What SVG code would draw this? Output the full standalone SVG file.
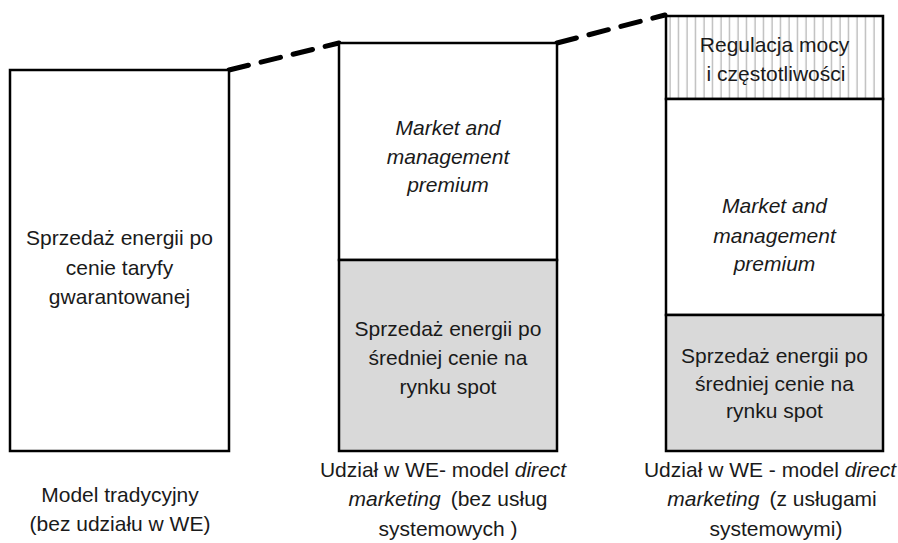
<svg xmlns="http://www.w3.org/2000/svg" width="898" height="543" viewBox="0 0 898 543">
<defs>
<pattern id="hatch" patternUnits="userSpaceOnUse" x="666" y="0" width="8.5" height="10">
<line x1="4" y1="0" x2="4" y2="10" stroke="#a0a0a0" stroke-width="1"/>
</pattern>
</defs>
<style>
.box{fill:#fff;stroke:#000;stroke-width:2.5}
.gray{fill:#d9d9d9;stroke:#000;stroke-width:2.5}
.hatch{fill:url(#hatch);stroke:#000;stroke-width:2.5}
text{font-family:"Liberation Sans",Arial,sans-serif;font-size:21px;fill:#1a1a1a;text-anchor:middle}
.it{font-style:italic}
.dash{fill:none;stroke:#000;stroke-width:5;stroke-dasharray:20 13;stroke-linecap:round}
</style>
<g id="connectors">
<path class="dash" d="M229 70 L339 43"/>
<path class="dash" d="M557 43 L665 15"/>
</g>
<g id="col1">
<rect class="box" x="10" y="70" width="219" height="381"/>
<text x="119.5" y="245">Sprzedaż energii po</text>
<text x="119.5" y="275">cenie taryfy</text>
<text x="119.5" y="304">gwarantowanej</text>
</g>
<g id="col2-top">
<rect class="box" x="339" y="43" width="218" height="217"/>
<text class="it" x="448" y="135">Market and</text>
<text class="it" x="448" y="164">management</text>
<text class="it" x="448" y="192">premium</text>
</g>
<g id="col2-bottom">
<rect class="gray" x="339" y="260" width="218" height="191"/>
<text x="448" y="336">Sprzedaż energii po</text>
<text x="448" y="365">średniej cenie na</text>
<text x="448" y="394">rynku spot</text>
</g>
<g id="col3-top">
<rect class="hatch" x="666" y="16" width="217" height="83"/>
<text x="774.5" y="52">Regulacja mocy</text>
<text x="776" y="81">i częstotliwości</text>
</g>
<g id="col3-mid">
<rect class="box" x="666" y="99" width="217" height="216"/>
<text class="it" x="774.5" y="213">Market and</text>
<text class="it" x="774.5" y="243">management</text>
<text class="it" x="774.5" y="271">premium</text>
</g>
<g id="col3-bottom">
<rect class="gray" x="666" y="315" width="217" height="136"/>
<text x="774.5" y="363">Sprzedaż energii po</text>
<text x="774.5" y="391">średniej cenie na</text>
<text x="774.5" y="418">rynku spot</text>
</g>
<g id="label1">
<text x="120" y="502">Model tradycyjny</text>
<text x="120" y="531">(bez udziału w WE)</text>
</g>
<g id="label2">
<text x="443" y="477">Udział w WE- model <tspan class="it">direct</tspan></text>
<text x="448" y="506"><tspan class="it">marketing</tspan><tspan dx="10">(bez usług</tspan></text>
<text x="448" y="536">systemowych )</text>
</g>
<g id="label3">
<text x="770" y="477">Udział w WE - model <tspan class="it">direct</tspan></text>
<text x="772" y="506"><tspan class="it">marketing</tspan><tspan dx="10">(z usługami</tspan></text>
<text x="776" y="536">systemowymi)</text>
</g>
</svg>
